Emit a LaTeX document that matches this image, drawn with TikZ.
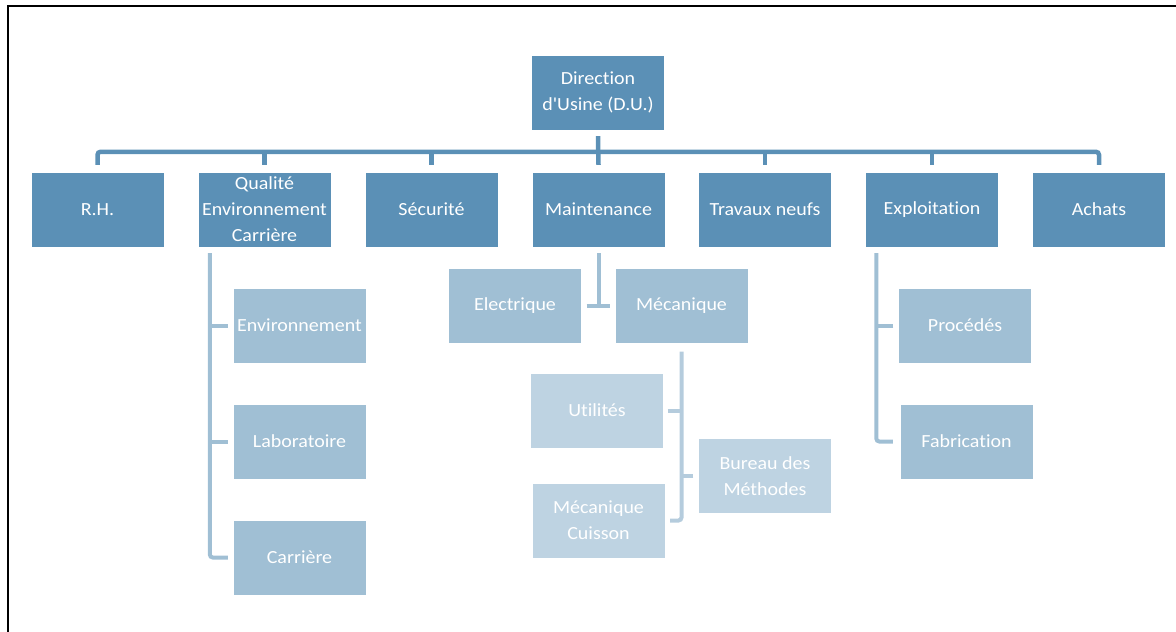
\documentclass[tikz,border=0pt]{standalone}
\usepackage{fontspec}
\setmainfont{Carlito}[FakeStretch=1.08, Ligatures={NoCommon,NoDiscretionary,NoRare}]
\newfontfamily\qf{Carlito}[FakeStretch=1.08, Ligatures={NoCommon,NoDiscretionary,NoRare}]
\usetikzlibrary{calc}
\definecolor{dark}{HTML}{5B90B6}
\definecolor{mid}{HTML}{A0BFD4}
\definecolor{pale}{HTML}{BED3E2}
\definecolor{paleline}{HTML}{B5CCDD}
\tikzset{
  box/.style={rectangle, minimum width=133pt, minimum height=75pt, inner sep=0pt,
    text=white, align=center, font=\fontsize{18.5}{26}\selectfont, draw=white, line width=0.4pt},
  darkbox/.style={box, fill=dark},
  midbox/.style={box, fill=mid},
  palebox/.style={box, fill=pale},
  bus/.style={draw=dark, line width=4.5pt, rounded corners=3pt},
  subline/.style={draw=mid, line width=4pt, rounded corners=3pt},
  paleconn/.style={draw=paleline, line width=4pt, rounded corners=3pt},
}
\begin{document}
\begin{tikzpicture}[x=1pt,y=-1pt]
\useasboundingbox (0,0) rectangle (1176,632);
% frame
\draw[line width=2pt] (8,632) -- (8,6) -- (1176,6);
% nodes
\node[darkbox] (du) at (598,92.5) {Direc{}tion\\d{\qf '}Usine (D.U.)};
\node[darkbox] (rh) at (97.5,209.5) {R.H.};
\node[darkbox] (q) at (264.5,209.5) {Qualité\\Environnement\\Carrière};
\node[darkbox] (sec) at (431.5,209.5) {Sécurité};
\node[darkbox] (mt) at (598.5,209.5) {Maintenance};
\node[darkbox] (tn) at (765,209.5) {Travaux neufs};
\node[darkbox] (ex) at (932,209.5) {Exploitation};
\node[darkbox] (ach) at (1099,209.5) {Achats};
\node[midbox] (env) at (299.5,325.5) {Environnement};
\node[midbox] (lab) at (299.5,441.5) {Laboratoire};
\node[midbox] (car) at (299.5,557.5) {Carrière};
\node[midbox] (elec) at (515,306) {Electrique};
\node[midbox] (meca) at (681.5,306) {Mécanique};
\node[palebox] (util) at (597,410.5) {Utilités};
\node[palebox] (cui) at (598.5,520.5) {Mécanique\\Cuisson};
\node[palebox] (bur) at (765,476) {Bureau des\\Méthodes};
\node[midbox] (proc) at (965,325.5) {Procédés};
\node[midbox] (fab) at (966.5,441.5) {Fabrication};
% bus
\draw[bus] ([yshift=7pt]rh.north) |- ([yshift=20pt]ach.north) -- ([yshift=7pt]ach.north);
\foreach \n in {q,sec,tn,ex}{
  \draw[bus] ([yshift=20pt]\n.north) -- ([yshift=7pt]\n.north);
}
\draw[bus] ([yshift=-6pt]du.south) -- ([yshift=7pt]mt.north);
% Qualite children
\coordinate (qs) at ([shift={(12pt,-6pt)}]q.south west);
\draw[subline] (qs) |- ([xshift=-5pt]car.west);
\draw[subline] ([xshift=-5pt]env.west) -- (env.west -| qs);
\draw[subline] ([xshift=-5pt]lab.west) -- (lab.west -| qs);
% Maintenance children
\draw[subline] ([yshift=-6pt]mt.south) -- (mt.south |- elec.east);
\draw[subline, rounded corners=0pt] ([xshift=5pt]elec.east) -- ([xshift=-5pt]meca.west);
% Mecanique children
\draw[paleconn] ([yshift=-8pt]meca.south) |- ([xshift=5pt]cui.east);
\draw[paleconn] ([xshift=4pt]util.east) -- (util.east -| meca.south);
\draw[paleconn] ([xshift=-5pt]bur.west) -- (bur.west -| meca.south);
% Exploitation children
\coordinate (es) at ([shift={(11pt,-6pt)}]ex.south west);
\draw[subline] (es) |- ([xshift=-7pt]fab.west);
\draw[subline] ([xshift=-5pt]proc.west) -- (proc.west -| es);
\end{tikzpicture}
\end{document}
